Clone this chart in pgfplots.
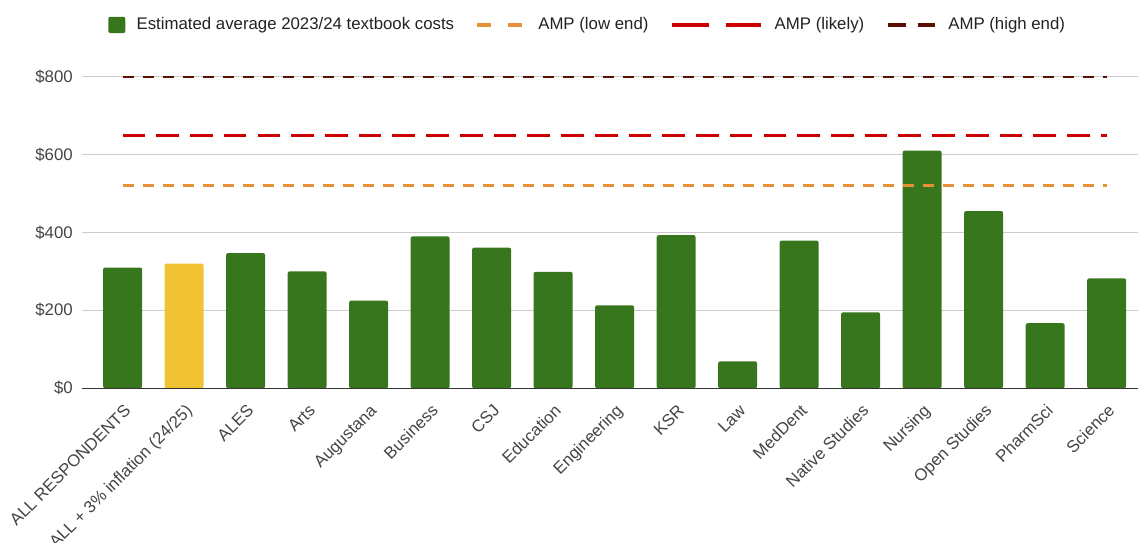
\documentclass[border=0pt]{standalone}
\usepackage{fontspec}
\setmainfont{Liberation Sans}
\usepackage{pgfplots}
\pgfplotsset{compat=1.18}
\definecolor{bargreen}{HTML}{38761D}
\definecolor{baryellow}{HTML}{F1C232}
\definecolor{amplow}{HTML}{E69138}
\definecolor{amplikely}{HTML}{CC0000}
\definecolor{amphigh}{HTML}{5B0F00}
\definecolor{gridc}{HTML}{CCCCCC}
\definecolor{basec}{HTML}{333333}
\definecolor{ticktext}{HTML}{444444}
\definecolor{legtext}{HTML}{222222}
\newcommand{\chartfont}{\fontsize{12.6pt}{14.5pt}\selectfont}
\begin{document}
\begin{tikzpicture}
\begin{axis}[
  name=ax,
  scale only axis,
  width=792pt, height=233.7pt,
  xmin=-0.66, xmax=16.51, ymin=0, ymax=800,
  xtick={0,...,16},
  xticklabels={ALL RESPONDENTS, {ALL + 3\% inflation (24/25)}, ALES, Arts, Augustana, Business, CSJ, Education, Engineering, KSR, Law, MedDent, Native Studies, Nursing, Open Studies, PharmSci, Science},
  ytick={0,200,400,600,800},
  yticklabel={\$\pgfmathprintnumber{\tick}},
  /pgf/number format/assume math mode=true,
  ymajorgrids, grid style={gridc, line width=0.75pt},
  axis line style={draw=none},
  major tick length=0pt,
  tick label style={font=\chartfont, text=ticktext},
  yticklabel style={inner sep=0pt, xshift=-6.75pt},
  xticklabel style={inner sep=0pt, xshift=4.3pt, yshift=-15pt, rotate=45, anchor=east, text height=0.72em, text depth=0pt},
  legend columns=4,
  legend cell align=left,
  legend style={draw=none, fill=none, at={(0,1)}, anchor=west, xshift=19.5pt, yshift=38.8pt, font=\chartfont, text=legtext, inner sep=0pt,
    nodes={inner sep=0pt, text height=0.74em, text depth=0pt},
    /tikz/every odd column/.append style={column sep=8.5pt},
    /tikz/every even column/.append style={column sep=16pt}},
]
\addplot[ybar, bar width=0.634, bar shift=0pt, fill=bargreen, draw=none, rounded corners=1.5pt,
  legend image code/.code={\fill[bargreen, solid] (0pt,-6.1pt) rectangle (12.75pt,6.1pt);}]
  coordinates {(0,310) (2,347) (3,300) (4,225) (5,390) (6,361) (7,299) (8,213) (9,393) (10,69) (11,379) (12,195) (13,610) (14,455) (15,167) (16,282)};
\addlegendentry{Estimated average 2023/24 textbook costs}
\addplot[ybar, bar width=0.634, bar shift=0pt, fill=baryellow, draw=none, rounded corners=1.5pt, forget plot]
  coordinates {(1,320)};
\addplot[amplow, line width=2.25pt, dash pattern=on 8.25pt off 6.75pt, sharp plot, mark=none,
  legend image code/.code={\draw[amplow, solid, line width=3pt] (0pt,0pt) -- (10.5pt,0pt) (23.25pt,0pt) -- (33.75pt,0pt); \path (36pt,0pt);}]
  coordinates {(0,520) (16,520)};
\addlegendentry{AMP (low end)}
\addplot[amplikely, line width=2.25pt, dash pattern=on 17pt off 8.3pt, sharp plot, mark=none,
  legend image code/.code={\draw[amplikely, solid, line width=3.2pt] (0pt,0pt) -- (27.75pt,0pt) (40.5pt,0pt) -- (67pt,0pt);}]
  coordinates {(0,650) (16,650)};
\addlegendentry{AMP (likely)}
\addplot[amphigh, line width=1.9pt, dash pattern=on 8.6pt off 6.4pt, sharp plot, mark=none,
  legend image code/.code={\draw[amphigh, solid, line width=3pt] (0pt,0pt) -- (13.5pt,0pt) (22.5pt,0pt) -- (35.5pt,0pt);}]
  coordinates {(0,800) (16,800)};
\addlegendentry{AMP (high end)}
\draw[basec, line width=1.1pt] (rel axis cs:0,0) -- (rel axis cs:1,0);
\end{axis}
\pgfresetboundingbox
\path ([shift={(-61.5pt,-116pt)}]ax.south west) rectangle ([shift={(0pt,57.5pt)}]ax.north east);
\end{tikzpicture}
\end{document}
